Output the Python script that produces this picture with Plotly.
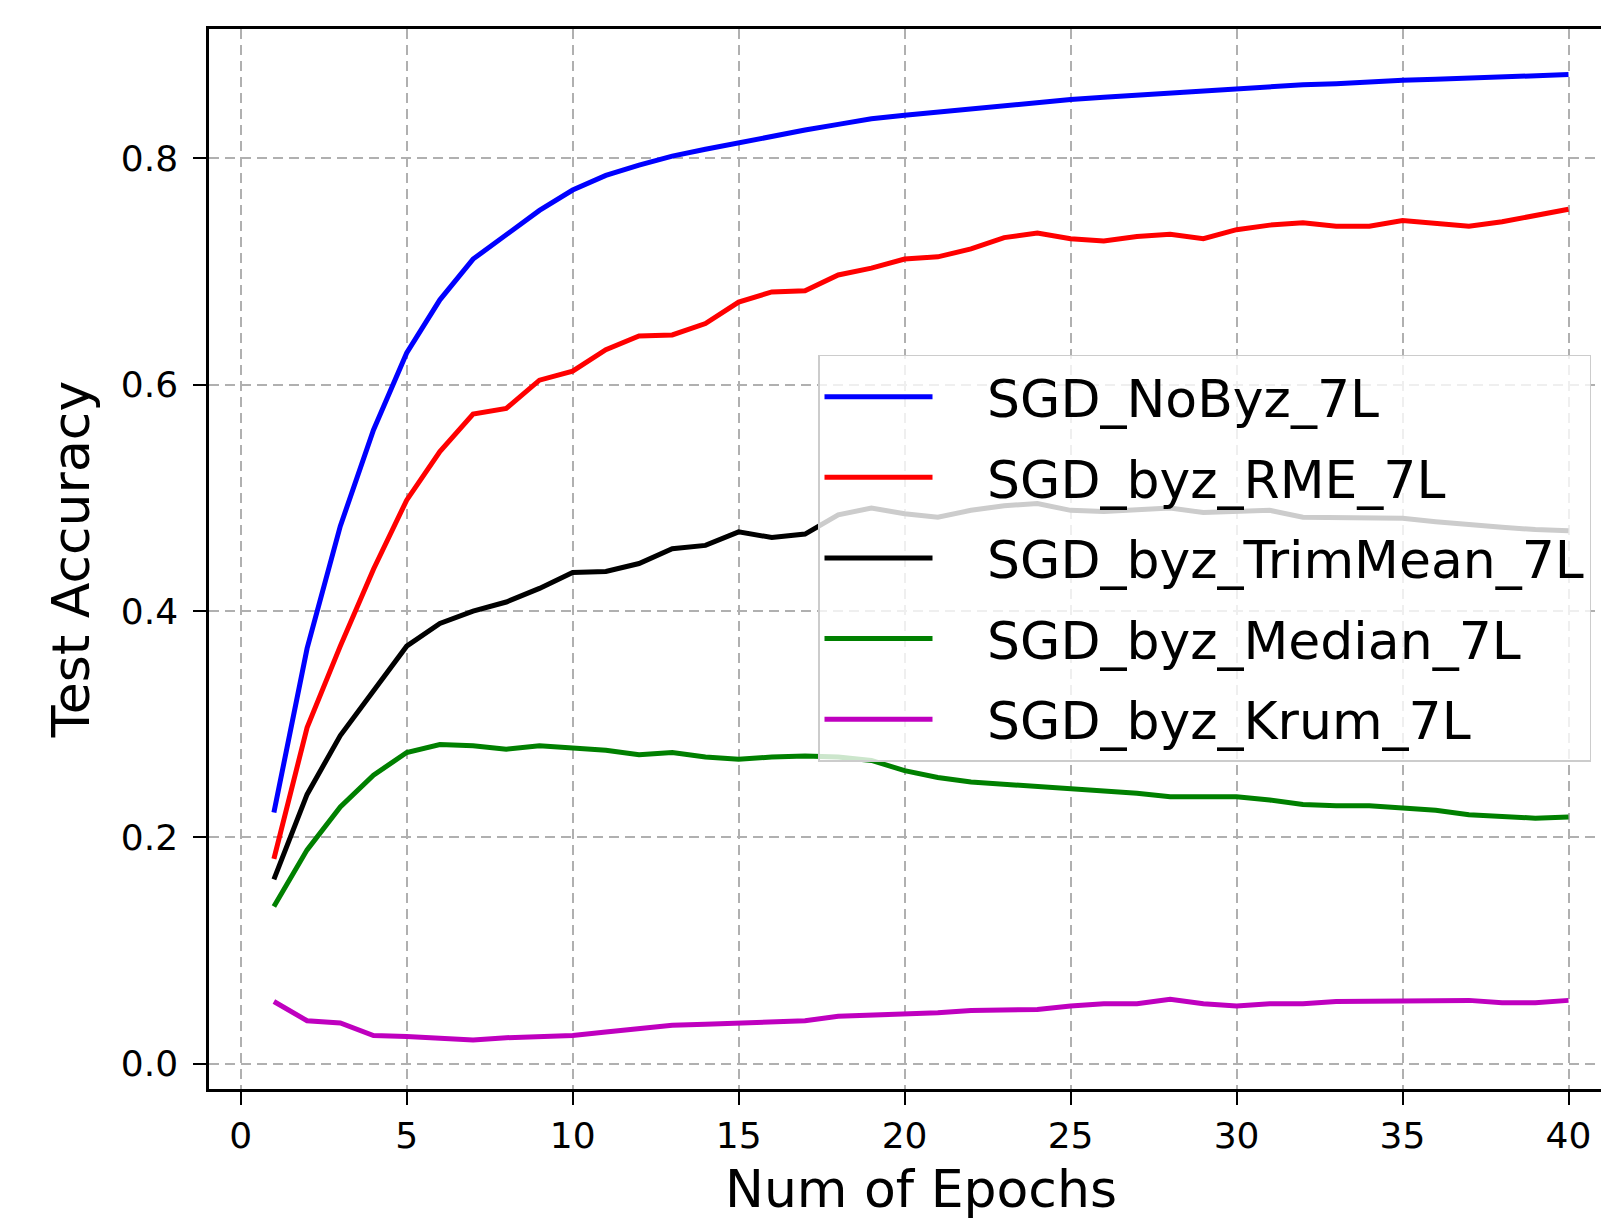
import plotly.graph_objects as go

epochs = list(range(1, 41))

sgd_nobyz = [0.222, 0.367, 0.475, 0.560, 0.628, 0.675, 0.711, 0.733, 0.754, 0.772,
             0.785, 0.794, 0.802, 0.808, 0.814, 0.820, 0.825, 0.830, 0.835, 0.838,
             0.841, 0.844, 0.847, 0.850, 0.852, 0.854, 0.856, 0.858, 0.860, 0.862,
             0.863, 0.865, 0.866, 0.868, 0.869, 0.870, 0.871, 0.872, 0.873, 0.874]

sgd_rme = [0.181, 0.297, 0.369, 0.437, 0.498, 0.541, 0.574, 0.579, 0.604, 0.612,
           0.631, 0.643, 0.644, 0.654, 0.673, 0.682, 0.683, 0.697, 0.703, 0.711,
           0.713, 0.720, 0.730, 0.734, 0.729, 0.727, 0.731, 0.733, 0.729, 0.737,
           0.741, 0.743, 0.740, 0.740, 0.745, 0.743, 0.740, 0.744, 0.749, 0.755]

sgd_trimmean = [0.163, 0.238, 0.290, 0.330, 0.369, 0.389, 0.400, 0.408, 0.420, 0.434,
                0.435, 0.442, 0.455, 0.458, 0.470, 0.465, 0.468, 0.485, 0.491, 0.486,
                0.483, 0.489, 0.493, 0.495, 0.489, 0.488, 0.490, 0.491, 0.487, 0.488,
                0.489, 0.483, 0.483, 0.483, 0.482, 0.479, 0.476, 0.474, 0.472, 0.471]

sgd_median = [0.139, 0.189, 0.227, 0.255, 0.275, 0.282, 0.281, 0.278, 0.281, 0.279,
              0.277, 0.273, 0.275, 0.271, 0.269, 0.271, 0.272, 0.271, 0.268, 0.259,
              0.253, 0.249, 0.247, 0.245, 0.244, 0.241, 0.239, 0.236, 0.236, 0.236,
              0.233, 0.229, 0.228, 0.228, 0.226, 0.224, 0.220, 0.219, 0.217, 0.218]

sgd_krum = [0.055, 0.038, 0.036, 0.025, 0.024, 0.022, 0.021, 0.023, 0.024, 0.025,
            0.028, 0.031, 0.034, 0.035, 0.036, 0.036, 0.038, 0.042, 0.043, 0.043,
            0.045, 0.047, 0.048, 0.048, 0.051, 0.053, 0.053, 0.057, 0.053, 0.051,
            0.053, 0.053, 0.055, 0.055, 0.056, 0.056, 0.056, 0.054, 0.054, 0.056]

series_names = ["SGD_NoByz_7L", "SGD_byz_RME_7L", "SGD_byz_TrimMean_7L",
                "SGD_byz_Median_7L", "SGD_byz_Krum_7L"]
series_values = [sgd_nobyz, sgd_rme, sgd_trimmean, sgd_median, sgd_krum]
series_colors = ["#0000ff", "#ff0000", "#000000", "#008000", "#bf00bf"]

x_ticks = [0, 5, 10, 15, 20, 25, 30, 35, 40]
y_ticks = [0.0, 0.2, 0.4, 0.6, 0.8]

FONT = "DejaVu Sans"
PAD = "\u00a0\u00a0\u00a0"  # gap between legend line sample and label

fig = go.Figure()
for name, vals, col in zip(series_names, series_values, series_colors):
    fig.add_trace(go.Scatter(x=epochs, y=vals, mode="lines", name=PAD + name,
                             legendgroup=name,
                             line=dict(color=col, width=5)))

axis_common = dict(
    showline=True, linecolor="black", linewidth=2.5,
    ticks="outside", ticklen=13, tickwidth=2, tickcolor="black",
    showgrid=True, gridcolor="#b0b0b0", gridwidth=1.6, griddash="10px,6px",
    zeroline=False, automargin=False,
    tickfont=dict(family=FONT, size=36, color="black"),
)

# the page body has an 8px margin, so the figure is 8px smaller and margins shifted
fig.update_layout(
    width=1601, height=1211,
    margin=dict(l=201, r=0, t=21, b=130),
    paper_bgcolor="white", plot_bgcolor="white",
    font=dict(family=FONT, color="black"),
    showlegend=True,
    legend=dict(
        x=0.435, y=0.6925, xanchor="left", yanchor="top",
        bgcolor="rgba(255,255,255,0.8)", bordercolor="#cccccc", borderwidth=1.5,
        font=dict(family=FONT, size=52, color="black"),
        itemwidth=108, tracegroupgap=10, traceorder="grouped",
    ),
    xaxis=dict(
        range=[-0.955, 41.22], tickvals=x_ticks, mirror=True,
        ticklabelstandoff=0,
        **axis_common,
    ),
    yaxis=dict(
        range=[-0.0223, 0.9143], tickvals=y_ticks, tickformat=".1f",
        ticklabelstandoff=8,
        title=dict(text="Test Accuracy", font=dict(family=FONT, size=52), standoff=15),
        **axis_common,
    ),
    annotations=[dict(
        text="Num of Epochs", xref="paper", yref="paper",
        x=0.5086, y=-0.094, xanchor="center", yanchor="middle",
        showarrow=False, font=dict(family=FONT, size=52, color="black"),
    )],
)

fig.write_html("out.html")
